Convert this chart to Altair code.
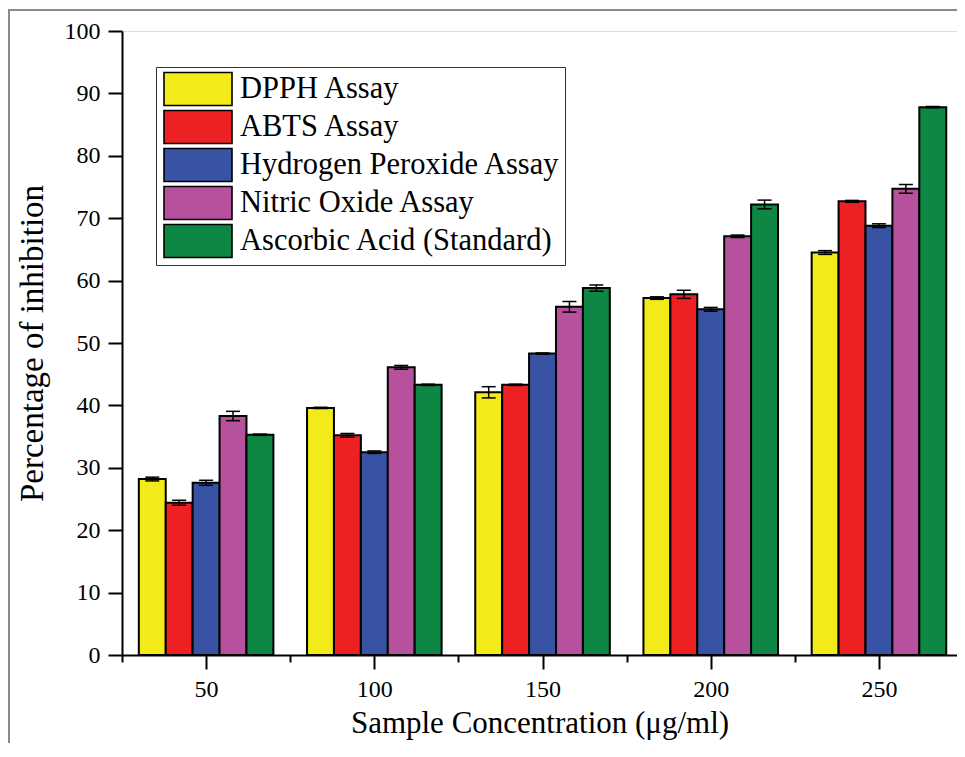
import altair as alt
import pandas as pd

# ---- data ----
concentrations = [50, 100, 150, 200, 250]
series_names = [
    "DPPH Assay",
    "ABTS Assay",
    "Hydrogen Peroxide Assay",
    "Nitric Oxide Assay",
    "Ascorbic Acid (Standard)",
]
series_colors = ["#F3EB19", "#ED2024", "#3853A4", "#B7519D", "#0D8743"]

dpph = [28.2, 39.6, 42.1, 57.2, 64.5]
abts = [24.4, 35.2, 43.3, 57.8, 72.7]
h2o2 = [27.6, 32.5, 48.3, 55.4, 68.8]
nitric = [38.3, 46.1, 55.8, 67.1, 74.7]
ascorbic = [35.3, 43.3, 58.8, 72.2, 87.8]

dpph_err = [0.3, 0.1, 0.9, 0.2, 0.3]
abts_err = [0.4, 0.3, 0.1, 0.65, 0.15]
h2o2_err = [0.4, 0.2, 0.1, 0.3, 0.3]
nitric_err = [0.75, 0.3, 0.85, 0.2, 0.7]
ascorbic_err = [0.1, 0.1, 0.5, 0.7, 0.1]

x_ticks = [25, 50, 75, 100, 125, 150, 175, 200, 225, 250]
y_ticks = [0, 5, 10, 15, 20, 25, 30, 35, 40, 45, 50, 55, 60, 65, 70, 75, 80, 85, 90, 95, 100]

values = [dpph, abts, h2o2, nitric, ascorbic]
errors = [dpph_err, abts_err, h2o2_err, nitric_err, ascorbic_err]

BAR_W = 8  # bar width in x-axis units
rows = []
for si, name in enumerate(series_names):
    for ci, c in enumerate(concentrations):
        v = values[si][ci]
        e = errors[si][ci]
        xc = c + (si - 2) * BAR_W
        rows.append(dict(series=name, conc=c, value=v, err=e, xc=xc,
                         x1=xc - BAR_W / 2, x2=xc + BAR_W / 2, lo=v - e, hi=v + e))
df = pd.DataFrame(rows)

FONT = "Liberation Serif"
xscale = alt.Scale(domain=[25, 273.2], nice=False, zero=False)
yscale = alt.Scale(domain=[0, 100], nice=False)

x_axis = alt.Axis(
    values=x_ticks,
    labelExpr="datum.value % 50 === 0 ? datum.label : ''",
    tickSize={"condition": {"test": "datum.value % 50 === 0", "value": 14}, "value": 7},
    tickWidth=2, tickColor="black", domainColor="black", domainWidth=2,
    labelFont=FONT, labelFontSize=24, labelColor="black", labelPadding=8,
    labelFlush=False, labelOverlap=False,
    titleFont=FONT, titleFontSize=31, titleFontWeight="normal", titleColor="black",
    titlePadding=7, grid=False,
)
y_axis = alt.Axis(
    values=y_ticks,
    labelExpr="datum.value % 10 === 0 ? datum.label : ''",
    tickSize={"condition": {"test": "datum.value % 10 === 0", "value": 14}, "value": 7},
    tickWidth=2, tickColor="black", domainColor="black", domainWidth=2,
    labelFont=FONT, labelFontSize=24, labelColor="black", labelPadding=8,
    labelFlush=False, labelOverlap=False,
    titleFont=FONT, titleFontSize=33, titleFontWeight="normal", titleColor="black",
    titlePadding=15, grid=False,
)

# wide rectangular legend swatches: path spans 4 x 1.94 units of sqrt(size)/2
legend = alt.Legend(
    title=None, orient="none", legendX=34, legendY=36, direction="vertical",
    symbolType="M-2,-0.97H2V0.97H-2Z", symbolSize=1156,
    symbolStrokeColor="black", symbolStrokeWidth=1.6, symbolOpacity=1,
    symbolOffset=20,
    labelFont=FONT, labelFontSize=30.5, labelColor="black", labelOffset=24,
    labelLimit=0, rowPadding=-3, padding=4,
    strokeColor="#333333", fillColor="white",
)

bars = alt.Chart(df).mark_bar(stroke="black", strokeWidth=2, opacity=1).encode(
    x=alt.X("x1:Q", scale=xscale, axis=x_axis, title="Sample Concentration (μg/ml)"),
    x2="x2:Q",
    y=alt.Y("value:Q", scale=yscale, axis=y_axis, title="Percentage of inhibition"),
    y2=alt.datum(0),
    color=alt.Color("series:N", scale=alt.Scale(domain=series_names, range=series_colors),
                    legend=legend),
)

err_rule = alt.Chart(df).mark_rule(color="black", strokeWidth=1.5).encode(
    x="xc:Q", y="lo:Q", y2="hi:Q"
)
cap_lo = alt.Chart(df).mark_tick(orient="horizontal", size=14, thickness=1.5,
                                 color="black", opacity=1).encode(x="xc:Q", y="lo:Q")
cap_hi = alt.Chart(df).mark_tick(orient="horizontal", size=14, thickness=1.5,
                                 color="black", opacity=1).encode(x="xc:Q", y="hi:Q")

# thin grey frame of the figure (top and left edges)
frame_top = alt.Chart(df).mark_rule(color="#8a8a8a", strokeWidth=2).encode(
    x=alt.value(-114), x2=alt.value(835), y=alt.value(-21)
)
frame_left = alt.Chart(df).mark_rule(color="#8a8a8a", strokeWidth=2).encode(
    x=alt.value(-113), y=alt.value(-21), y2=alt.value(712)
)

chart = alt.layer(bars, err_rule, cap_lo, cap_hi, frame_top, frame_left).properties(
    width=835, height=624,
    autosize=alt.AutoSizeParams(type="none"),
    padding={"left": 114, "top": 23, "right": 0, "bottom": 88},
).configure_view(stroke=None).configure_legend(strokeWidth=1).configure(background="white")

chart.save("out.html", embed_options={"renderer": "svg", "actions": False})
